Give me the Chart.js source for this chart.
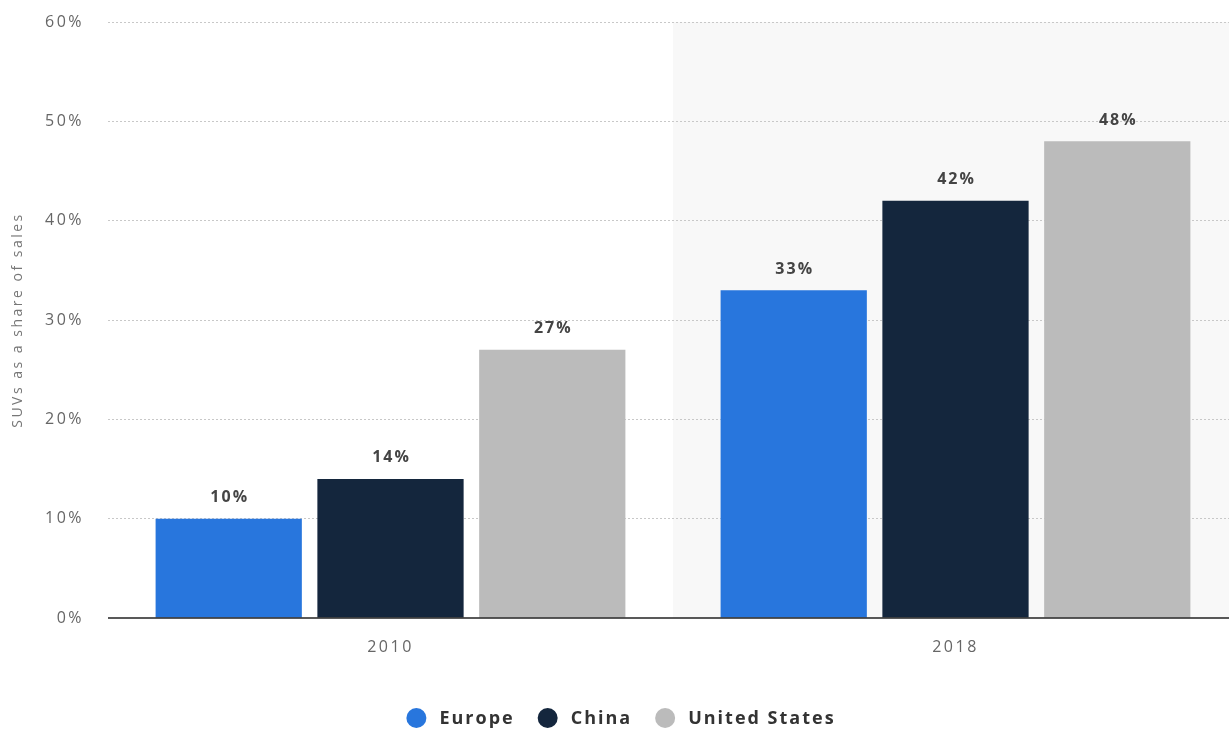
<!DOCTYPE html>
<html>
<head>
<meta charset="utf-8">
<script src="https://cdn.jsdelivr.net/npm/chart.js@4"></script>
<style>
  html, body { margin: 0; padding: 0; background: #fff; overflow: hidden; }
  #wrap { position: relative; width: 1238px; height: 729px; }
</style>
</head>
<body>
<div id="wrap"><canvas id="chart"></canvas></div>
<script>
// data
const years = ['2010', '2018'];
const europe = [10, 33];
const china = [14, 42];
const unitedStates = [27, 48];
const yTicks = [0, 10, 20, 30, 40, 50, 60];

const FONT = "'Open Sans', sans-serif";

// light band behind the second category
const bandPlugin = {
  id: 'band',
  beforeDraw(chart) {
    const { ctx, chartArea, scales } = chart;
    ctx.letterSpacing = '2.5px';
    const x0 = (scales.x.getPixelForValue(0) + scales.x.getPixelForValue(1)) / 2;
    ctx.save();
    ctx.fillStyle = '#f8f8f8';
    ctx.fillRect(x0, chartArea.top, chartArea.right - x0, chartArea.bottom - chartArea.top);
    ctx.restore();
  }
};

// zero line, value labels above bars, and the legend row
const overlay = {
  id: 'overlay',
  afterDatasetsDraw(chart) {
    const { ctx, chartArea } = chart;
    ctx.save();
    ctx.strokeStyle = '#222';
    ctx.lineWidth = 1.5;
    ctx.beginPath();
    ctx.moveTo(chartArea.left, chartArea.bottom);
    ctx.lineTo(chartArea.right, chartArea.bottom);
    ctx.stroke();

    ctx.letterSpacing = '2px';
    ctx.font = `bold 16px ${FONT}`;
    ctx.fillStyle = '#444';
    ctx.textAlign = 'center';
    ctx.textBaseline = 'middle';
    chart.data.datasets.forEach((ds, i) => {
      chart.getDatasetMeta(i).data.forEach((bar, j) => {
        ctx.fillText(ds.data[j] + '%', bar.x + 1, bar.y - 21);
      });
    });

    // legend
    ctx.font = `bold 18px ${FONT}`;
    ctx.letterSpacing = '2px';
    ctx.textAlign = 'left';
    const r = 10, gapText = 13, gapItem = 23, y = 718;
    const items = chart.data.datasets.map(ds => ({
      text: ds.label, color: ds.backgroundColor, w: ctx.measureText(ds.label).width
    }));
    const total = items.reduce((s, it) => s + 2 * r + gapText + it.w, 0) + gapItem * (items.length - 1);
    let x = chart.width / 2 - total / 2 + 2;
    items.forEach(it => {
      ctx.fillStyle = it.color;
      ctx.beginPath();
      ctx.arc(x + r, y, r, 0, Math.PI * 2);
      ctx.fill();
      ctx.fillStyle = '#333';
      ctx.fillText(it.text, x + 2 * r + gapText, y + 1);
      x += 2 * r + gapText + it.w + gapItem;
    });
    ctx.restore();
  }
};

new Chart(document.getElementById('chart'), {
  type: 'bar',
  data: {
    labels: years,
    datasets: [
      { label: 'Europe', data: europe, backgroundColor: '#2876dd' },
      { label: 'China', data: china, backgroundColor: '#14263d' },
      { label: 'United States', data: unitedStates, backgroundColor: '#bbbbbb' }
    ]
  },
  options: {
    responsive: true,
    maintainAspectRatio: false,
    animation: false,
    categoryPercentage: 0.859,
    barPercentage: 0.904,
    layout: { padding: { top: 22, right: 0, left: 0, bottom: 0 } },
    plugins: {
      tooltip: { enabled: false },
      legend: { display: false }
    },
    scales: {
      x: {
        grid: { display: false },
        border: { display: false },
        ticks: { color: '#666', padding: 12, font: { family: FONT, size: 16 } },
        afterFit(scale) { scale.height = 111; }
      },
      y: {
        min: 0,
        max: 60,
        afterBuildTicks(scale) { scale.ticks = yTicks.map(v => ({ value: v })); },
        ticks: {
          color: '#666',
          padding: 24,
          font: { family: FONT, size: 16 },
          callback: v => v + '%'
        },
        grid: {
          drawTicks: false,
          color: ctx => ctx.tick.value === 0 ? 'rgba(0,0,0,0)' : '#c8c8c8'
        },
        border: { display: false, dash: [2, 2] },
        title: {
          display: true,
          text: 'SUVs as a share of sales',
          color: '#777',
          font: { family: FONT, size: 14 },
          padding: { top: 10, bottom: 0 }
        },
        afterFit(scale) {
          scale.width = 108;
          scale.paddingTop = 0;
          scale.paddingBottom = 0;
        }
      }
    }
  },
  plugins: [bandPlugin, overlay]
});
</script>
</body>
</html>
